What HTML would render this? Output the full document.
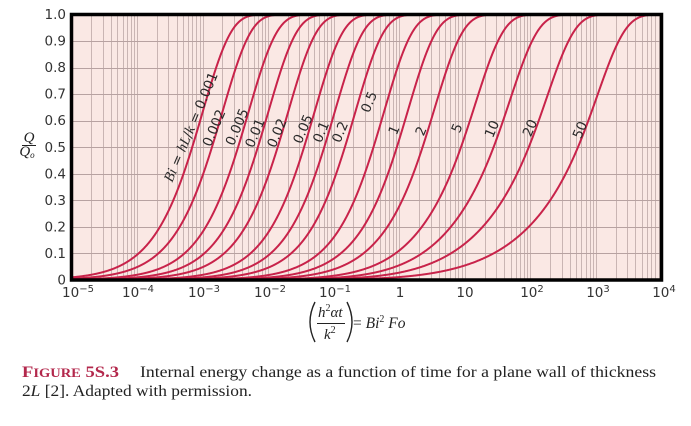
<!DOCTYPE html>
<html><head><meta charset="utf-8">
<style>
html,body{margin:0;padding:0;background:#fff;}
svg{display:block}
.n{font-family:"DejaVu Sans","Liberation Sans",sans-serif;font-size:13.5px;fill:#2a2a2a}
.it{font-family:"Liberation Serif",serif;font-style:italic}
.ax{font-family:"DejaVu Sans","Liberation Sans",sans-serif;font-size:13.5px;fill:#333}
</style></head>
<body>
<svg id="s" width="691" height="426" viewBox="0 0 691 426" xmlns="http://www.w3.org/2000/svg">
<defs><clipPath id="c"><rect x="71.5" y="14.5" width="590" height="265.5"/></clipPath></defs>
<rect x="71.5" y="14.5" width="590" height="265.5" fill="#fae8e4"/>
<g id="grid"></g>
<g id="curves" clip-path="url(#c)"></g>
<rect x="71.5" y="14.5" width="590" height="265.5" fill="none" stroke="#000" stroke-width="3.5"/>

<!-- curve labels -->
<g class="n">
<text transform="translate(191,127) rotate(-67)" text-anchor="middle" y="4.5"><tspan class="it" font-size="14.5">Bi</tspan> = <tspan class="it" font-size="14.5">hL</tspan>/<tspan class="it" font-size="14.5">k</tspan> = 0.001</text>
<text transform="translate(214,128) rotate(-67)" text-anchor="middle" y="4.5">0.002</text>
<text transform="translate(237,127) rotate(-67)" text-anchor="middle" y="4.5">0.005</text>
<text transform="translate(255,133) rotate(-67)" text-anchor="middle" y="4.5">0.01</text>
<text transform="translate(277,133) rotate(-67)" text-anchor="middle" y="4.5">0.02</text>
<text transform="translate(303,129) rotate(-67)" text-anchor="middle" y="4.5">0.05</text>
<text transform="translate(321,132) rotate(-67)" text-anchor="middle" y="4.5">0.1</text>
<text transform="translate(340,132) rotate(-67)" text-anchor="middle" y="4.5">0.2</text>
<text transform="translate(369,102) rotate(-67)" text-anchor="middle" y="4.5">0.5</text>
<text transform="translate(394,130) rotate(-67)" text-anchor="middle" y="4.5">1</text>
<text transform="translate(421,131) rotate(-67)" text-anchor="middle" y="4.5">2</text>
<text transform="translate(457,128) rotate(-67)" text-anchor="middle" y="4.5">5</text>
<text transform="translate(492,129) rotate(-67)" text-anchor="middle" y="4.5">10</text>
<text transform="translate(530,128) rotate(-67)" text-anchor="middle" y="4.5">20</text>
<text transform="translate(580,130) rotate(-67)" text-anchor="middle" y="4.5">50</text>
</g>

<!-- y labels -->
<g class="ax" text-anchor="end" id="ylab"></g>
<!-- x labels -->
<g class="ax" text-anchor="middle">
<text x="78" y="297">10<tspan dy="-5" font-size="10">−5</tspan></text>
<text x="138" y="297">10<tspan dy="-5" font-size="10">−4</tspan></text>
<text x="204" y="297">10<tspan dy="-5" font-size="10">−3</tspan></text>
<text x="270" y="297">10<tspan dy="-5" font-size="10">−2</tspan></text>
<text x="335" y="297">10<tspan dy="-5" font-size="10">−1</tspan></text>
<text x="400" y="297">1</text>
<text x="465" y="297">10</text>
<text x="532" y="297">10<tspan dy="-5" font-size="10">2</tspan></text>
<text x="598" y="297">10<tspan dy="-5" font-size="10">3</tspan></text>
<text x="664" y="297">10<tspan dy="-5" font-size="10">4</tspan></text>
</g>

<!-- Q/Qo -->
<text x="29" y="142" class="it" font-size="15" text-anchor="middle" fill="#222">Q</text>
<line x1="22" y1="145.5" x2="36" y2="145.5" stroke="#222" stroke-width="1"/>
<text x="27" y="156" class="it" font-size="15" text-anchor="middle" fill="#222">Q<tspan font-size="9" dy="2">o</tspan></text>

<!-- formula -->
<path d="M315,302 Q305,322 315,342" fill="none" stroke="#222" stroke-width="1.4"/>
<path d="M347,302 Q357,322 347,342" fill="none" stroke="#222" stroke-width="1.4"/>
<text x="318" y="317" font-family="Liberation Serif,serif" font-size="15" fill="#222"><tspan font-style="italic">h</tspan><tspan font-size="10" dy="-6">2</tspan><tspan dy="6" font-style="italic">αt</tspan></text>
<line x1="317" y1="323.5" x2="345" y2="323.5" stroke="#222" stroke-width="1"/>
<text x="324" y="339" font-family="Liberation Serif,serif" font-size="15" fill="#222"><tspan font-style="italic">k</tspan><tspan font-size="10" dy="-6">2</tspan></text>
<text x="353" y="328" font-family="Liberation Serif,serif" font-size="15.5" fill="#222">= <tspan font-style="italic">Bi</tspan><tspan font-size="10" dy="-6">2</tspan><tspan dy="6" font-style="italic"> Fo</tspan></text>

<!-- caption -->
<text x="22" y="377" font-family="Liberation Serif,serif" font-weight="bold" fill="#b3284c" font-size="16" textLength="97" lengthAdjust="spacingAndGlyphs">F<tspan font-size="12.5">IGURE</tspan> 5S.3</text>
<text x="140" y="377" font-family="Liberation Serif,serif" font-size="15.5" fill="#222" textLength="516" lengthAdjust="spacingAndGlyphs">Internal energy change as a function of time for a plane wall of thickness</text>
<text x="22" y="396" font-family="Liberation Serif,serif" font-size="15.5" fill="#222" textLength="230" lengthAdjust="spacingAndGlyphs">2<tspan font-style="italic">L</tspan> [2]. Adapted with permission.</text>
</svg>
<script>
(function(){
const X0=71.5,DEC=590/9,Y0=280,YH=265.5;
const px=l=>X0+(l+5)*DEC, py=q=>Y0-q*YH;
let h='';
for(let d=-5;d<4;d++)for(let m=1;m<10;m++){
  if(d===-5&&m===1)continue;
  const x=Math.round(px(d+Math.log10(m)))+0.5;
  h+='<line x1="'+x+'" y1="14.5" x2="'+x+'" y2="280" stroke="#c9b5b3" stroke-width="1"/>';
}
for(let i=1;i<10;i++){
  const y=Math.round(py(i/10))+0.5;
  h+='<line x1="71.5" y1="'+y+'" x2="661.5" y2="'+y+'" stroke="#b7a2a1" stroke-width="1"/>';
}
document.getElementById('grid').innerHTML=h;
let yl='';
const labs=['0','0.1','0.2','0.3','0.4','0.5','0.6','0.7','0.8','0.9','1.0'];
for(let i=0;i<=10;i++){
  yl+='<text x="66" y="'+(py(i/10)+4.5).toFixed(1)+'">'+labs[i]+'</text>';
}
document.getElementById('ylab').innerHTML=yl;

function erfcx(z){
  const t=1/(1+0.5*z);
  return t*Math.exp(-1.26551223+t*(1.00002368+t*(0.37409196+t*(0.09678418+t*(-0.18628806+t*(0.27886807+t*(-1.13520398+t*(1.48851587+t*(-0.82215223+t*0.17087277)))))))));
}
function roots(Bi,N){
  const r=[];
  for(let n=0;n<N;n++){
    let a=n*Math.PI,b=n*Math.PI+Math.PI/2;
    let fa=a*Math.sin(a)-Bi*Math.cos(a);
    for(let i=0;i<70;i++){
      const m=(a+b)/2,fm=m*Math.sin(m)-Bi*Math.cos(m);
      if((fm>0)===(fa>0)){a=m;fa=fm;}else b=m;
    }
    r.push((a+b)/2);
  }
  return r;
}
const Bis=[0.001,0.002,0.005,0.01,0.02,0.05,0.1,0.2,0.5,1,2,5,10,20,50];
let c='';
for(const Bi of Bis){
  const z=roots(Bi,60);
  const coef=z.map(zn=>4*Math.sin(zn)/(2*zn+Math.sin(2*zn))*Math.sin(zn)/zn);
  let d='';
  for(let i=0;i<=1800;i++){
    const l=-5+i*0.005, x=Math.pow(10,l), Fo=x/(Bi*Bi);
    let q;
    if(Fo<0.05){
      const s=Math.sqrt(x);
      q=(erfcx(s)+2*s/Math.sqrt(Math.PI)-1)/Bi;
    }else{
      let sum=0;
      for(let k=0;k<z.length;k++){sum+=coef[k]*Math.exp(-z[k]*z[k]*Fo);}
      q=1-sum;
    }
    q=Math.max(0,Math.min(1.02,q));
    d+=(i?'L':'M')+px(l).toFixed(2)+','+py(q).toFixed(2);
  }
  c+='<path d="'+d+'" fill="none" stroke="#c8234a" stroke-width="2"/>';
}
document.getElementById('curves').innerHTML=c;
})();
</script>
</body></html>
